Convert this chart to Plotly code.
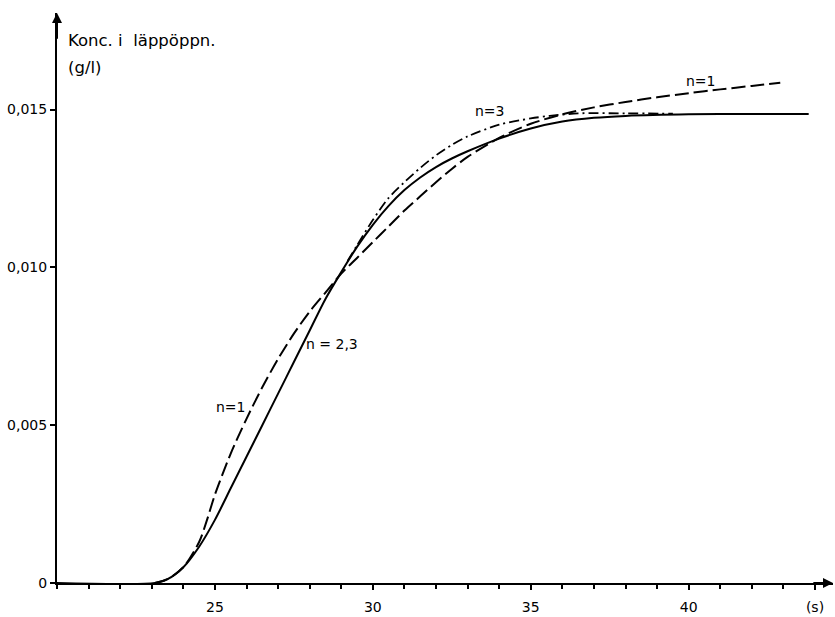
import plotly.graph_objects as go

# Solid curve, n = 2,3
x_solid = [20, 23.1, 23.5, 24, 24.5, 25, 25.5, 26, 26.5, 27, 27.5, 28, 28.5, 29, 29.5, 30,
           30.5, 31, 31.5, 32, 32.5, 33, 34, 35, 36, 37, 38, 40, 42, 43.8]
y_solid = [0, 0, 0.00012, 0.0005, 0.00115, 0.0020, 0.0030, 0.0040, 0.0050, 0.0060, 0.0070,
           0.0080, 0.0090, 0.00985, 0.01065, 0.01135, 0.01195, 0.01245, 0.01285, 0.01318,
           0.01345, 0.01368, 0.01408, 0.0144, 0.01462, 0.01474, 0.0148, 0.01485, 0.01486,
           0.01486]

# Dashed curve, n = 1
x_n1 = [23.1, 23.5, 24, 24.5, 24.75, 25, 25.5, 26, 26.5, 27, 27.5, 28, 28.5, 29, 29.5, 30,
        30.5, 31, 31.5, 32, 32.5, 33, 34, 35, 36, 37, 38, 39, 40, 41, 42, 42.9]
y_n1 = [0, 0.00012, 0.0005, 0.0013, 0.0020, 0.0028, 0.0041, 0.0052, 0.0062, 0.0071, 0.0079,
        0.0086, 0.0092, 0.0098, 0.0103, 0.0108, 0.0113, 0.0118, 0.01225, 0.0127, 0.01312,
        0.0135, 0.0141, 0.01455, 0.01485, 0.01507, 0.01524, 0.01539, 0.01552, 0.01564,
        0.01575, 0.01585]

# Dash-dot curve, n = 3
x_n3 = [29.2, 29.5, 30, 30.5, 31, 31.5, 32, 32.5, 33, 34, 35, 35.6, 36.5, 38, 39.5]
y_n3 = [0.0102, 0.0107, 0.0115, 0.0122, 0.0127, 0.01315, 0.01355, 0.01388, 0.01415, 0.01452,
        0.01472, 0.0148, 0.01488, 0.01488, 0.01487]

x_tickvals = [25, 30, 35, 40, 44]
x_ticktext = ["25", "30", "35", "40", "(s)"]
y_tickvals = [0, 0.005, 0.010, 0.015]
y_ticktext = ["0", "0,005", "0,010", "0,015"]

labels = [
    ("n=1", 40.4, 0.0159),
    ("n=3", 33.7, 0.01497),
    ("n=1", 25.5, 0.00558),
    ("n = 2,3", 28.72, 0.00758),
]

FONT = "DejaVu Sans"

fig = go.Figure()
fig.add_trace(go.Scatter(x=x_solid, y=y_solid, mode="lines",
                         line=dict(color="black", width=2, shape="spline", smoothing=0.8)))
fig.add_trace(go.Scatter(x=x_n1, y=y_n1, mode="lines",
                         line=dict(color="black", width=2, dash="14px,5px", shape="spline", smoothing=0.8)))
fig.add_trace(go.Scatter(x=x_n3, y=y_n3, mode="lines",
                         line=dict(color="black", width=1.8, dash="10px,4px,2px,4px", shape="spline", smoothing=0.8)))

for txt, lx, ly in labels:
    fig.add_annotation(x=lx, y=ly, text=txt, showarrow=False,
                       font=dict(family=FONT, size=14, color="black"))

fig.add_annotation(x=20.3, y=0.01719, text="Konc. i  läppöppn.", showarrow=False,
                   xanchor="left", yanchor="middle", font=dict(family=FONT, size=16.5, color="black"))
fig.add_annotation(x=20.3, y=0.01634, text="(g/l)", showarrow=False,
                   xanchor="left", yanchor="middle", font=dict(family=FONT, size=16.5, color="black"))

# axis arrows
fig.add_annotation(x=44.57, y=0, ax=43.9, ay=0, axref="x", ayref="y", xref="x", yref="y",
                   text="", showarrow=True, arrowhead=2, arrowsize=1, arrowwidth=2, arrowcolor="black")
fig.add_annotation(x=20, y=0.01806, ax=20, ay=0.0172, axref="x", ayref="y", xref="x", yref="y",
                   text="", showarrow=True, arrowhead=2, arrowsize=1, arrowwidth=2, arrowcolor="black")

fig.update_layout(
    width=835, height=617,
    margin=dict(l=57, r=2, t=13, b=25),
    paper_bgcolor="white", plot_bgcolor="white",
    showlegend=False,
    font=dict(family=FONT, size=14, color="black"),
    xaxis=dict(range=[20, 44.57], showgrid=False, zeroline=False, showline=True,
               linecolor="black", linewidth=2, ticks="outside", ticklen=5, tickwidth=1.5,
               tickcolor="black", tickvals=x_tickvals, ticktext=x_ticktext,
               ticklabelstandoff=5,
               minor=dict(dtick=1, tick0=20, ticks="outside", ticklen=4, tickwidth=1.5,
                          tickcolor="black", showgrid=False)),
    yaxis=dict(range=[0, 0.01806], showgrid=False, zeroline=False, showline=True,
               linecolor="black", linewidth=2, ticks="outside", ticklen=5, tickwidth=1.5,
               tickcolor="black", tickvals=y_tickvals, ticktext=y_ticktext),
)

fig.write_html("out.html")
